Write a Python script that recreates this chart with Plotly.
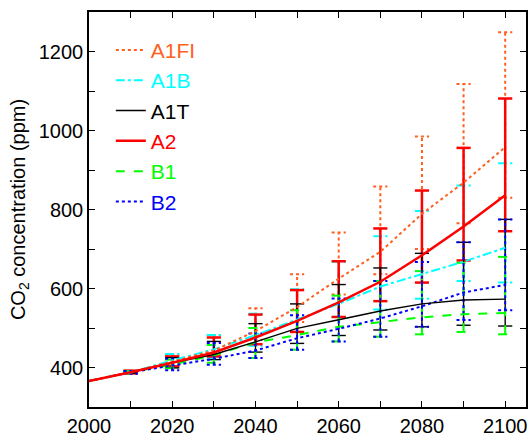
import plotly.graph_objects as go

years = [2000, 2010, 2020, 2030, 2040, 2050, 2060, 2070, 2080, 2090, 2100]
bar_years = years[1:]

series_names = ["A1FI", "A1B", "A1T", "A2", "B1", "B2"]

mean_A1FI = [366, 388, 415, 443, 492, 553, 625, 693, 789, 868, 958]
mean_A1B = [366, 388, 418, 446, 482, 522, 561, 605, 637, 668, 703]
mean_A1T = [366, 388, 412, 433, 465, 499, 521, 543, 561, 571, 573]
mean_A2 = [366, 388, 412, 438, 476, 518, 565, 617, 684, 757, 836]
mean_B1 = [366, 388, 407, 431, 464, 482, 503, 515, 527, 535, 538]
mean_B2 = [366, 388, 405, 422, 443, 474, 498, 524, 555, 590, 609]

hi_A1FI = [392, 432, 482, 550, 636, 742, 858, 985, 1118, 1249]
lo_A1FI = [385, 405, 435, 470, 515, 585, 636, 700, 765, 830]
hi_A1B = [392, 434, 482, 536, 598, 668, 732, 796, 861, 917]
lo_A1B = [385, 403, 425, 455, 490, 528, 547, 574, 619, 615]
hi_A1T = [391, 425, 466, 511, 561, 610, 652, 689, 717, 775]
lo_A1T = [386, 399, 420, 439, 461, 481, 495, 503, 507, 505]
hi_A2 = [392, 428, 476, 534, 596, 669, 752, 848, 956, 1081]
lo_A2 = [385, 403, 428, 459, 490, 528, 568, 615, 671, 745]
hi_B1 = [391, 420, 457, 500, 545, 582, 619, 644, 665, 680]
lo_B1 = [385, 398, 412, 424, 445, 466, 478, 484, 490, 484]
hi_B2 = [391, 422, 462, 486, 532, 575, 619, 667, 717, 775]
lo_B2 = [384, 393, 407, 424, 445, 466, 478, 503, 520, 545]

x_tickvals = [2000, 2020, 2040, 2060, 2080, 2100]
x_ticktext = ["2000", "2020", "2040", "2060", "2080", "2100"]
y_tickvals = [400, 600, 800, 1000, 1200]
y_ticktext = ["400", "600", "800", "1000", "1200"]

means = {"A1FI": mean_A1FI, "A1B": mean_A1B, "A1T": mean_A1T,
         "A2": mean_A2, "B1": mean_B1, "B2": mean_B2}
his = {"A1FI": hi_A1FI, "A1B": hi_A1B, "A1T": hi_A1T,
       "A2": hi_A2, "B1": hi_B1, "B2": hi_B2}
los = {"A1FI": lo_A1FI, "A1B": lo_A1B, "A1T": lo_A1T,
       "A2": lo_A2, "B1": lo_B1, "B2": lo_B2}

styles = {
    "A1FI": dict(color="#ff6020", dash="dot", width=2),
    "A1B": dict(color="#00ffff", dash="dashdot", width=2),
    "A1T": dict(color="#000000", dash="solid", width=1.4),
    "A2": dict(color="#ff0000", dash="solid", width=2.5),
    "B1": dict(color="#00ff00", dash="dash", width=2),
    "B2": dict(color="#0000ff", dash="dot", width=2),
}

CAP = 1.7
FONT = "Arial, Liberation Sans, sans-serif"

fig = go.Figure()

# error bars
for name in ["A1FI", "A1B", "A2", "A1T", "B1", "B2"]:
    xs, ys = [], []
    for yr, h, l in zip(bar_years, his[name], los[name]):
        xs += [yr, yr, None, yr - CAP, yr + CAP, None, yr - CAP, yr + CAP, None]
        ys += [l, h, None, h, h, None, l, l, None]
    st = styles[name]
    fig.add_trace(go.Scatter(
        x=xs, y=ys, mode="lines", showlegend=False, hoverinfo="skip",
        line=dict(color=st["color"], dash=st["dash"], width=st["width"]),
    ))

# mean lines
draw_order = ["B1", "B2", "A1T", "A1B", "A1FI", "A2"]
for name in draw_order:
    st = styles[name]
    fig.add_trace(go.Scatter(
        x=years, y=means[name], mode="lines",
        name=f"<span style='color:{st['color']}'>{name}</span>",
        legendgroup=name, legendrank=series_names.index(name) + 1,
        line=dict(color=st["color"], dash=st["dash"], width=st["width"]),
    ))

axis_common = dict(
    showline=True, linecolor="black", linewidth=1.5, mirror="allticks",
    ticks="inside", ticklen=6, tickwidth=1.2, tickcolor="black",
    showgrid=False, zeroline=False,
    tickfont=dict(size=20, color="black", family=FONT),
)

fig.update_xaxes(range=[2000, 2105], tickmode="array",
                 tickvals=x_tickvals, ticktext=x_ticktext,
                 minor=dict(tickmode="linear", tick0=2000, dtick=10,
                            ticks="inside", ticklen=6, tickwidth=1.2,
                            tickcolor="black", showgrid=False),
                 **axis_common)
fig.update_yaxes(range=[300, 1300], tickmode="array",
                 tickvals=y_tickvals, ticktext=y_ticktext,
                 minor=dict(tickmode="linear", tick0=300, dtick=100,
                            ticks="inside", ticklen=6, tickwidth=1.2,
                            tickcolor="black", showgrid=False),
                 title=dict(text="CO<sub>2</sub> concentration (ppm)",
                            font=dict(size=20, color="black", family=FONT),
                            standoff=8),
                 **axis_common)

fig.update_layout(
    width=531, height=440,
    margin=dict(l=89, r=3, t=12, b=27),
    paper_bgcolor="white", plot_bgcolor="white",
    font=dict(family=FONT, size=20, color="black"),
    legend=dict(x=0.05, y=0.955, xanchor="left", yanchor="top",
                bgcolor="rgba(0,0,0,0)", borderwidth=0,
                tracegroupgap=0, font=dict(size=21, family=FONT)),
    showlegend=True,
)

fig.write_html("out.html", config={"displayModeBar": False})
with open("out.html", "r", encoding="utf-8") as f:
    html = f.read()
html = html.replace("<head>", "<head><style>html,body{margin:0;padding:0;overflow:hidden;}</style>", 1)
with open("out.html", "w", encoding="utf-8") as f:
    f.write(html)
